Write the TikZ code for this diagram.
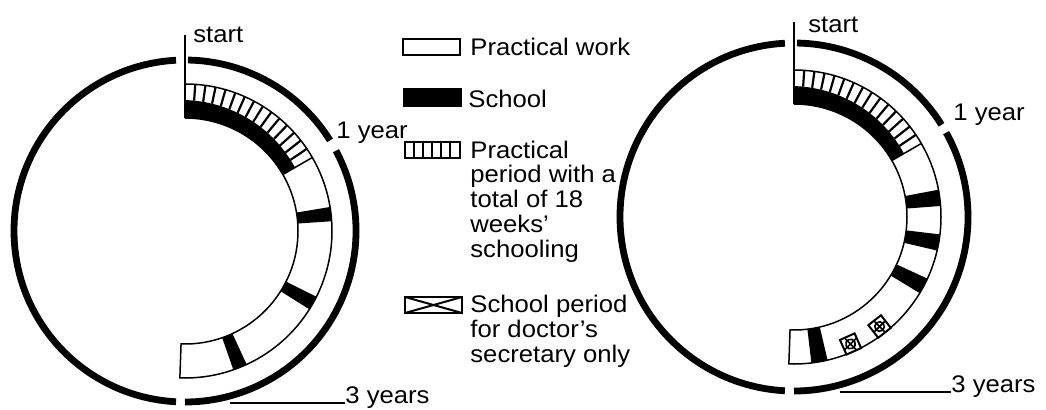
\documentclass[tikz,border=0pt]{standalone}
\usepackage{fontspec}
\setmainfont{Liberation Sans}[FakeStretch=1.07]

\begin{document}
\begin{tikzpicture}[x=0.5pt,y=0.5pt,
  rim/.style={line width=3.4pt},
  band/.style={line width=0.75pt},
  lbl/.style={anchor=base west,inner sep=0pt,font=\fontsize{12}{12.35}\selectfont},
  crossbox/.style={draw,fill=white,line width=1pt,minimum size=8pt,inner sep=0pt,
    path picture={\draw[line width=0.8pt] (path picture bounding box.north west) -- (path picture bounding box.south east)
      (path picture bounding box.south west) -- (path picture bounding box.north east)
      (path picture bounding box.center) circle (2.4pt);}}]

\useasboundingbox (0,0) rectangle (1046,409);

\begin{scope}[shift={(185,178)}]
\draw[rim] (93:171) arc (93:267:171);
\draw[rim] (89:171) arc (89:32:171);
\draw[rim] (28:171) arc (28:-90:171);
\fill (90:113) arc (90:30:113) -- (30:127) -- plot[domain=30:90,samples=16] (\x:{127+(\x-30)/15}) -- cycle;
\foreach \a in {86,82,...,34} \draw[line width=1.1pt] (\a:{127+(\a-30)/15}) -- (\a:147);
\foreach \a in {6.6,-29.4,-68} \fill (\a-2.8:113) -- (\a-2.8:147) arc (\a-2.8:\a+2.8:147) -- (\a+2.8:113) arc (\a+2.8:\a-2.8:113) -- cycle;
\draw[band] (30:113) -- (30:147);
\draw[band] (90:147) arc (90:-92:147) -- (-92:113) arc (-92:90:113);
\draw[band] (90:113) -- (90:196);
\end{scope}

\begin{scope}[shift={(794,192)}]
\draw[rim] (93:174) arc (93:267:174);
\draw[rim] (89:174) arc (89:32:174);
\draw[rim] (29:174) arc (29:-90:174);
\fill (90:113) arc (90:30:113) -- (30:127) -- plot[domain=30:90,samples=16] (\x:{127+(\x-30)/15}) -- cycle;
\foreach \a in {86,82,...,34} \draw[line width=1.1pt] (\a:{127+(\a-30)/15}) -- (\a:147);
\foreach \a in {7.5,-10,-28,-80} \fill (\a-3.2:113) -- (\a-3.2:147) arc (\a-3.2:\a+3.2:147) -- (\a+3.2:113) arc (\a+3.2:\a-3.2:113) -- cycle;
\draw[band] (30:113) -- (30:147);
\draw[band] (90:147) arc (90:-92:147) -- (-92:113) arc (-92:90:113);
\draw[band] (90:113) -- (90:195);
\node[crossbox,rotate=-52] (crossa) at (-52:139) {};
\node[crossbox,rotate=-66] (crossb) at (-66:139) {};
\end{scope}

\node[lbl] (lstart) at (193,367) {start};
\node[lbl] (lyear) at (336,271) {1 year};
\node[lbl] (lthree) at (345,6) {3 years};
\coordinate (lfoot) at (230,6);
\draw[band] (lfoot) -- (lthree.base west);

\node[lbl] (rstart) at (808,377) {start};
\node[lbl] (ryear) at (953,289) {1 year};
\node[lbl] (rthree) at (951,17) {3 years};
\coordinate (rfoot) at (840,17);
\draw[band] (rfoot) -- (rthree.base west);

\draw[line width=1pt] (403,354) rectangle (460,370);
\node[lbl] (keywork) at (470,354) {Practical work};
\fill (403,302) rectangle (462,321);
\node[lbl] (keyschool) at (468,302) {School};
\draw[line width=1pt] (405,251) rectangle (460,267);
\foreach \x in {414,423,...,451} \draw[line width=1pt] (\x,251) -- (\x,267);
\node[lbl,align=left] (keyperiod) at (470,152) {Practical\\period with a\\total of 18\\weeks'\\schooling};
\draw[line width=1pt] (405,96) rectangle (462,112);
\draw[line width=1pt] (405,96) -- (462,112) (405,112) -- (462,96);
\node[lbl,align=left] (keycross) at (470,47) {School period\\for doctor's\\secretary only};
\end{tikzpicture}
\end{document}
